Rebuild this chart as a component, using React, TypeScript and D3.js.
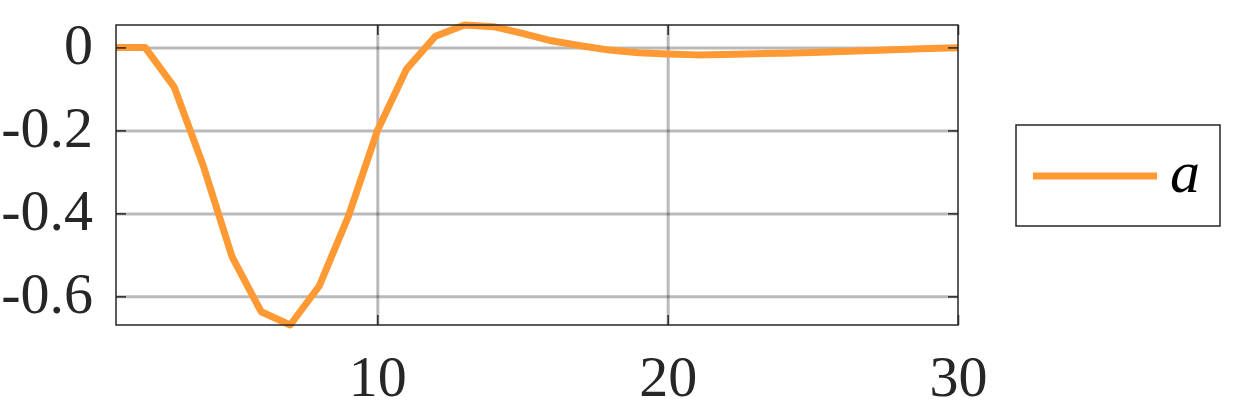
import React, { useRef, useEffect } from "react";
import * as d3 from "d3";

// sample index and series "a"
const steps: number[] = [
  1, 2, 3, 4, 5, 6, 7, 8, 9, 10, 11, 12, 13, 14, 15, 16, 17, 18, 19, 20, 21,
  22, 23, 24, 25, 26, 27, 28, 29, 30,
];
const seriesA: number[] = [
  0, 0, -0.095, -0.284, -0.505, -0.637, -0.669, -0.575, -0.408, -0.201,
  -0.053, 0.027, 0.054, 0.05, 0.034, 0.016, 0.004, -0.0065, -0.013, -0.016,
  -0.018, -0.017, -0.015, -0.014, -0.012, -0.01, -0.0073, -0.005, -0.0025,
  -0.001,
];
const xTicks: number[] = [10, 20, 30];
const yTicks: number[] = [0, -0.2, -0.4, -0.6];
const yTickLabels: string[] = ["0", "-0.2", "-0.4", "-0.6"];
const seriesName = "a";

const App: React.FC = () => {
  const d3Container = useRef<SVGSVGElement>(null);

  useEffect(() => {
    if (d3Container.current) {
      drawChart();
    }
  }, []);

  const drawChart = () => {
    const margin = { top: 25, right: 292, bottom: 92, left: 116 };
    const width = 1250 - margin.left - margin.right;
    const height = 417 - margin.top - margin.bottom;
    const font = "'Liberation Serif', 'DejaVu Serif', serif";
    const axisColor = "#262626";
    const lineColor = "#ff9933";

    const root = d3.select(d3Container.current);
    root.selectChildren().remove();

    const svg = root
      .append("g")
      .attr("transform", `translate(${margin.left},${margin.top})`);

    // Scales (tight limits, as in the source)
    const x = d3
      .scaleLinear()
      .domain(d3.extent(steps) as [number, number])
      .range([0, width]);

    const y = d3
      .scaleLinear()
      .domain(d3.extent(seriesA) as [number, number])
      .range([height, 0]);

    // Grid
    const gridX = svg
      .append("g")
      .attr("transform", `translate(0,${height})`)
      .call(
        d3
          .axisBottom(x)
          .tickValues(xTicks.filter((t) => t < 30))
          .tickSize(-height)
          .tickFormat(() => "")
      );
    const gridY = svg
      .append("g")
      .call(
        d3
          .axisLeft(y)
          .tickValues(yTicks)
          .tickSize(-width)
          .tickFormat(() => "")
      );
    [gridX, gridY].forEach((g) => {
      g.select(".domain").remove();
      g.selectAll(".tick line")
        .attr("stroke", "#000")
        .attr("stroke-opacity", 0.27)
        .attr("stroke-width", 3);
    });

    // Line
    const line = d3
      .line<number>()
      .x((_, i) => x(steps[i]))
      .y((d) => y(d));

    svg
      .append("path")
      .datum(seriesA)
      .attr("fill", "none")
      .attr("stroke", lineColor)
      .attr("stroke-width", 7)
      .attr("stroke-linejoin", "round")
      .attr("d", line);

    // Box
    svg
      .append("rect")
      .attr("width", width)
      .attr("height", height)
      .attr("fill", "none")
      .attr("stroke", axisColor)
      .attr("stroke-width", 1.5);

    // Inward ticks on all four sides
    const tickLen = 10;
    const bottomAxis = svg
      .append("g")
      .attr("transform", `translate(0,${height})`)
      .call(d3.axisBottom(x).tickValues(xTicks).tickSize(-tickLen).tickPadding(30));
    const topAxis = svg
      .append("g")
      .call(d3.axisTop(x).tickValues(xTicks).tickSize(-tickLen).tickFormat(() => ""));
    const leftAxis = svg
      .append("g")
      .call(
        d3
          .axisLeft(y)
          .tickValues(yTicks)
          .tickSize(-tickLen)
          .tickPadding(23)
          .tickFormat((_, i) => yTickLabels[i])
      );
    const rightAxis = svg
      .append("g")
      .attr("transform", `translate(${width},0)`)
      .call(d3.axisRight(y).tickValues(yTicks).tickSize(-tickLen).tickFormat(() => ""));

    [bottomAxis, topAxis, leftAxis, rightAxis].forEach((g) => {
      g.select(".domain").remove();
      g.selectAll(".tick line").attr("stroke", axisColor).attr("stroke-width", 1.5);
      g.selectAll(".tick text")
        .attr("fill", "#262626")
        .attr("font-family", font)
        .attr("font-size", 58);
    });
    leftAxis.selectAll(".tick text").attr("dy", "0.28em");

    // Legend
    const legend = root.append("g").attr("transform", "translate(1016,125)");
    legend
      .append("rect")
      .attr("width", 204)
      .attr("height", 101)
      .attr("fill", "#fff")
      .attr("stroke", axisColor)
      .attr("stroke-width", 1.5);
    legend
      .append("line")
      .attr("x1", 17)
      .attr("x2", 141)
      .attr("y1", 51)
      .attr("y2", 51)
      .attr("stroke", lineColor)
      .attr("stroke-width", 7);
    legend
      .append("text")
      .attr("x", 154)
      .attr("y", 67)
      .attr("font-family", font)
      .attr("font-style", "italic")
      .attr("font-size", 60)
      .attr("fill", "#000")
      .text(seriesName);
  };

  return (
    <svg
      ref={d3Container}
      width={1250}
      height={417}
      style={{ position: "absolute", left: 0, top: 0, background: "#fff" }}
    />
  );
};

export default App;
